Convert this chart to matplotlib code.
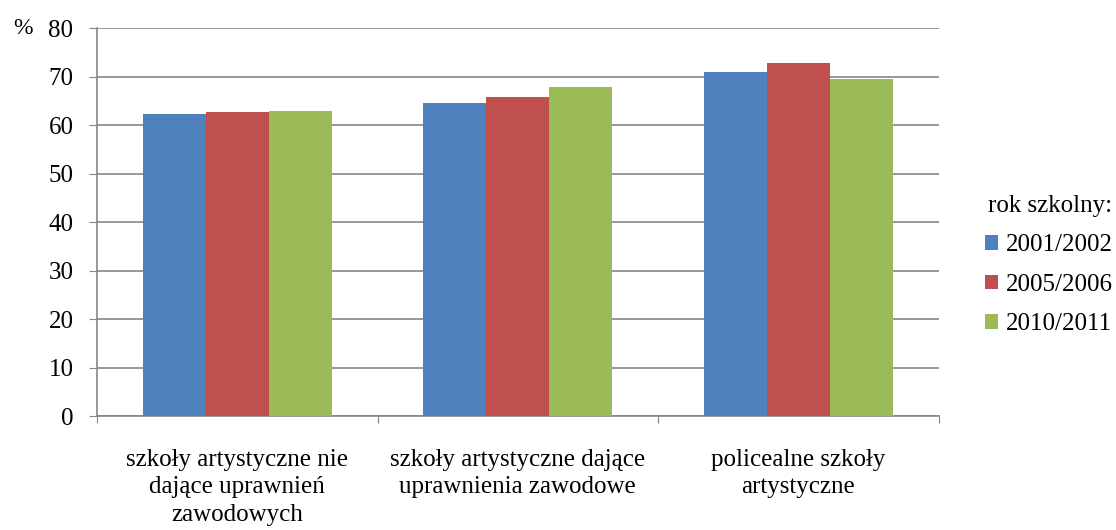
import numpy as np
import matplotlib.pyplot as plt

plt.rcParams['font.family'] = ['Liberation Serif', 'DejaVu Serif']

categories = ['szkoły artystyczne nie\ndające uprawnień\nzawodowych',
              'szkoły artystyczne dające\nuprawnienia zawodowe',
              'policealne szkoły\nartystyczne']
years = ['2001/2002', '2005/2006', '2010/2011']
vals_2001 = [62.2, 64.6, 71.0]
vals_2005 = [62.6, 65.8, 72.9]
vals_2010 = [63.0, 67.8, 69.4]
colors = ['#4F81BD', '#C0504D', '#9BBB59']

fig = plt.figure(figsize=(11.16, 5.30), dpi=100)
ax = fig.add_axes([0.087, 0.215, 0.754, 0.732])

x = np.arange(len(categories))
w = 0.225
for i, (vals, lab) in enumerate(zip([vals_2001, vals_2005, vals_2010], years)):
    ax.bar(x + (i - 1) * w, vals, w, color=colors[i], label=lab, zorder=3)

ax.set_xlim(-0.5, 2.5)
ax.set_ylim(0, 80)
ax.set_yticks(range(0, 81, 10))
ax.yaxis.grid(True, color='#868686', lw=1.2, zorder=0)
ax.tick_params(axis='y', length=6, color='#868686', labelsize=18, pad=11)

# category boundaries get the tick marks, labels sit in the middle
ax.set_xticks([-0.5, 0.5, 1.5, 2.5])
ax.set_xticklabels([])
ax.tick_params(axis='x', which='major', length=5, color='#868686')
ax.set_xticks(x, minor=True)
ax.set_xticklabels(categories, minor=True, fontsize=18, linespacing=1.3)
ax.tick_params(axis='x', which='minor', length=0, pad=24)

for s in ['top', 'right']:
    ax.spines[s].set_visible(False)
for s in ['left', 'bottom']:
    ax.spines[s].set_color('#868686')
    ax.spines[s].set_linewidth(1.2)

fig.text(0.012, 0.947, '%', fontsize=17, va='center')

leg = fig.legend(loc='center left', bbox_to_anchor=(0.883, 0.5), frameon=False,
                 title='rok szkolny:', fontsize=18, title_fontsize=18,
                 handlelength=0.52, handleheight=0.52, handletextpad=0.28,
                 labelspacing=0.7, alignment='right', borderpad=0, borderaxespad=0)

fig.savefig('out.png', dpi=100)
